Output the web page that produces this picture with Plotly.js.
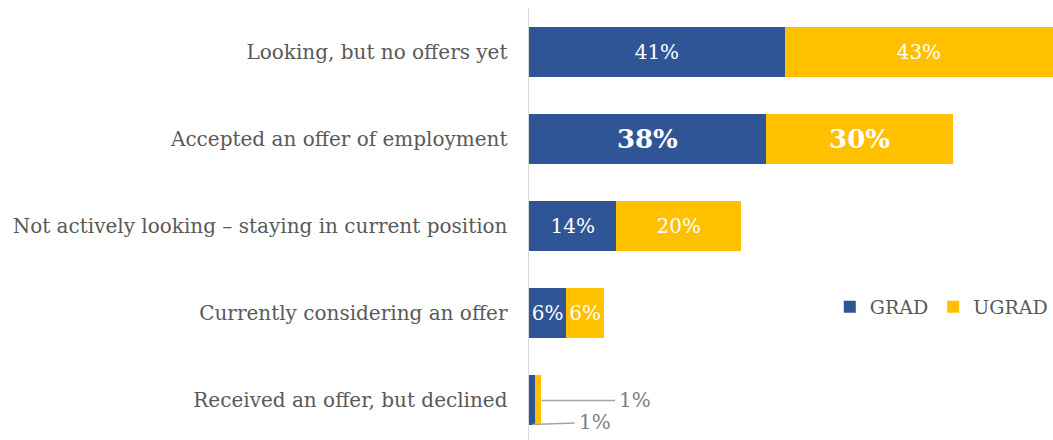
<!DOCTYPE html>
<html>
<head>
<meta charset="utf-8">
<script src="https://cdn.plot.ly/plotly-3.0.1.min.js"></script>
<style>html,body{margin:0;padding:0;background:#fff;}#chart{width:1053px;height:440px;}</style>
</head>
<body>
<div id="chart"></div>
<script>
const categories = [
  "Looking, but no offers yet",
  "Accepted an offer of employment",
  "Not actively looking – staying in current position",
  "Currently considering an offer",
  "Received an offer, but declined"
];
const gradValues = [41, 38, 14, 6, 1];
const ugradValues = [43, 30, 20, 6, 1];
const seriesNames = ["GRAD", "UGRAD"];
const highlightIndex = 1;     // row with bold, larger labels
const outsideLabelIndex = 4;  // row labelled with leader lines

const FONT = "DejaVu Serif";
const BLUE = "#2F5597";
const GOLD = "#FFC000";

function templates(vals) {
  return vals.map((v, i) => {
    if (i === outsideLabelIndex) return "";
    if (i === highlightIndex) return "<b>%{x}%</b>";
    return "%{x}%";
  });
}
function sizes(vals) {
  return vals.map((v, i) => i === highlightIndex ? 26 : 20);
}

function barTrace(name, vals, color) {
  return {
    type: "bar",
    orientation: "h",
    name: name,
    x: vals,
    y: categories,
    marker: {color: color, line: {width: 0}},
    texttemplate: templates(vals),
    textposition: "inside",
    insidetextanchor: "middle",
    textangle: 0,
    constraintext: "none",
    textfont: {family: FONT, color: "#ffffff", size: sizes(vals)},
    hoverinfo: "skip"
  };
}

const data = [
  barTrace(seriesNames[0], gradValues, BLUE),
  barTrace(seriesNames[1], ugradValues, GOLD)
];

const lastCat = categories[outsideLabelIndex];
const annotations = [
  {
    x: gradValues[outsideLabelIndex] + ugradValues[outsideLabelIndex],
    y: lastCat, xref: "x", yref: "y",
    text: ugradValues[outsideLabelIndex] + "%",
    showarrow: true, arrowhead: 0, arrowwidth: 1.5, arrowcolor: "#A6A6A6",
    ax: 94, ay: 0, borderpad: 4,
    font: {family: FONT, size: 20, color: "#7F7F7F"}
  },
  {
    x: gradValues[outsideLabelIndex] / 2,
    y: lastCat, xref: "x", yref: "y",
    yshift: -24,
    text: gradValues[outsideLabelIndex] + "%",
    showarrow: true, arrowhead: 0, arrowwidth: 1.5, arrowcolor: "#A6A6A6",
    ax: 63, ay: -2, borderpad: 4,
    font: {family: FONT, size: 20, color: "#7F7F7F"}
  }
];

const layout = {
  width: 1053,
  height: 440,
  margin: {l: 529, r: 0, t: 8, b: 0, pad: 0, autoexpand: false},
  paper_bgcolor: "#ffffff",
  plot_bgcolor: "#ffffff",
  barmode: "stack",
  bargap: 0.425,
  font: {family: FONT, size: 20, color: "#595959"},
  xaxis: {
    range: [0, 84],
    showgrid: false, zeroline: false, showticklabels: false, showline: false,
    automargin: false,
    fixedrange: true
  },
  yaxis: {
    type: "category",
    range: [4.455, -0.511],
    showgrid: false, zeroline: false,
    showline: true, linecolor: "#D9D9D9", linewidth: 1.5,
    ticks: "",
    ticklabelstandoff: 16,
    automargin: false,
    tickfont: {family: FONT, size: 20, color: "#595959"},
    fixedrange: true
  },
  showlegend: true,
  legend: {
    orientation: "h",
    x: 0.574, xanchor: "left",
    y: 0.308, yanchor: "middle",
    font: {family: FONT, size: 19, color: "#595959"},
    traceorder: "normal",
    bgcolor: "rgba(0,0,0,0)"
  },
  annotations: annotations
};

Plotly.newPlot("chart", data, layout, {displayModeBar: false, staticPlot: true});
</script>
</body>
</html>
